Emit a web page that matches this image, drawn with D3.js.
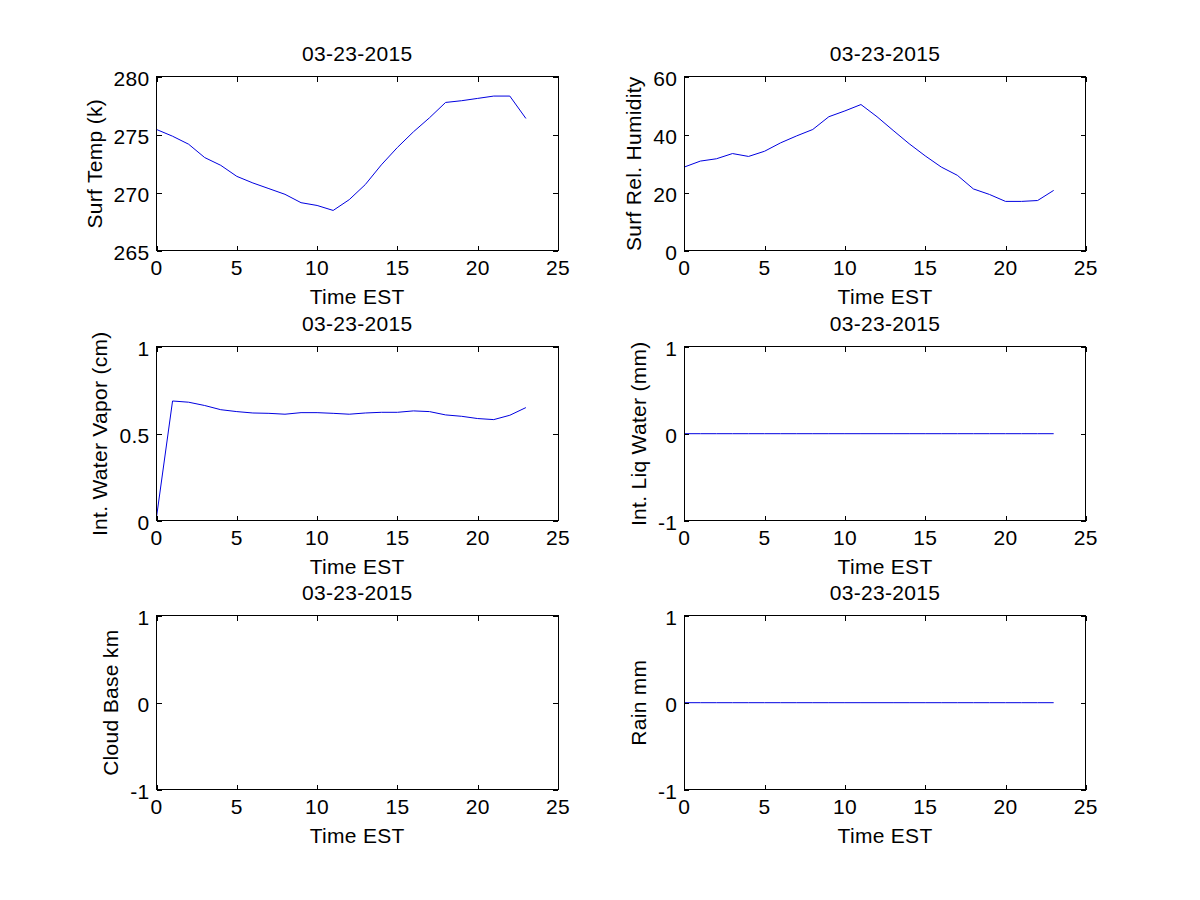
<!DOCTYPE html>
<html>
<head>
<meta charset="utf-8">
<script src="https://cdn.jsdelivr.net/npm/d3@7"></script>
<style>
  body { margin: 0; background: #fff; }
  svg { display: block; }
  text { font-family: "Liberation Sans", Arial, sans-serif; font-size: 21px; letter-spacing: 0.3px; fill: #000; }
</style>
</head>
<body>
<div id="container"></div>
<script>
var hours = [0, 1, 2, 3, 4, 5, 6, 7, 8, 9, 10, 11, 12, 13, 14, 15, 16, 17, 18, 19, 20, 21, 22, 23],
    surfTemp = [275.45, 274.87, 274.18, 273.03, 272.36, 271.41, 270.84, 270.35, 269.86, 269.14, 268.9, 268.47,
                269.4, 270.7, 272.4, 273.9, 275.25, 276.46, 277.78, 277.93, 278.13, 278.33, 278.33, 276.4],
    surfHumidity = [28.85, 30.9, 31.7, 33.5, 32.5, 34.3, 37.2, 39.6, 41.8, 46.2, 48.2, 50.4,
                    46.2, 41.5, 36.9, 32.7, 28.85, 26.0, 21.3, 19.4, 17.0, 17.0, 17.3, 20.8],
    waterVapor = [0.02, 0.688, 0.681, 0.662, 0.638, 0.627, 0.619, 0.617, 0.612, 0.621, 0.621, 0.617,
                  0.612, 0.619, 0.623, 0.623, 0.631, 0.627, 0.608, 0.6, 0.587, 0.581, 0.606, 0.65],
    liqWater = [0, 0, 0, 0, 0, 0, 0, 0, 0, 0, 0, 0, 0, 0, 0, 0, 0, 0, 0, 0, 0, 0, 0, 0],
    cloudBase = [],
    rain = [0, 0, 0, 0, 0, 0, 0, 0, 0, 0, 0, 0, 0, 0, 0, 0, 0, 0, 0, 0, 0, 0, 0, 0],
    xTicks = [0, 5, 10, 15, 20, 25],
    tempTicks = [265, 270, 275, 280],
    humTicks = [0, 20, 40, 60],
    vaporTicks = [0, 0.5, 1],
    unitTicks = [-1, 0, 1],
    dateTitle = '03-23-2015',
    xLabel = 'Time EST';

var width = 1200,
    height = 900,
    colLeft = [156.5, 684.3],
    plotWidth = 401.5,
    rowTop = [76.7, 346.7, 615.7],
    plotHeight = 174,
    tickLen = 5,
    svg;

var panels = [
  { row: 0, col: 0, label: 'Surf Temp (k)', values: surfTemp, ticks: tempTicks },
  { row: 0, col: 1, label: 'Surf Rel. Humidity', values: surfHumidity, ticks: humTicks },
  { row: 1, col: 0, label: 'Int. Water Vapor (cm)', values: waterVapor, ticks: vaporTicks },
  { row: 1, col: 1, label: 'Int. Liq Water (mm)', values: liqWater, ticks: unitTicks },
  { row: 2, col: 0, label: 'Cloud Base km', values: cloudBase, ticks: unitTicks },
  { row: 2, col: 1, label: 'Rain mm', values: rain, ticks: unitTicks }
];

svg = d3.select('#container').append('svg')
  .attr('width', width)
  .attr('height', height);

function drawPanel(p) {
  var g = svg.append('g')
    .attr('transform', 'translate(' + colLeft[p.col] + ',' + rowTop[p.row] + ')');

  var x = d3.scaleLinear().domain([0, 25]).range([0, plotWidth]),
      y = d3.scaleLinear().domain(d3.extent(p.ticks)).range([plotHeight, 0]);

  // data line first, box on top
  var pts = p.values.map(function (v, i) { return { h: hours[i], v: v }; });
  if (pts.length) {
    g.append('path')
      .datum(pts)
      .attr('fill', 'none')
      .attr('stroke', '#0000e0')
      .attr('stroke-width', 1)
      .attr('d', d3.line()
        .defined(function (d) { return d.v != null; })
        .x(function (d) { return x(d.h); })
        .y(function (d) { return y(d.v); }));
  }

  g.append('rect')
    .attr('width', plotWidth)
    .attr('height', plotHeight)
    .attr('fill', 'none')
    .attr('stroke', '#000')
    .attr('stroke-width', 1)
    .attr('shape-rendering', 'crispEdges');

  // inward ticks on all four sides
  var bottomAxis = d3.axisBottom(x).tickValues(xTicks).tickSizeInner(-tickLen).tickSizeOuter(0).tickFormat(''),
      topAxis = d3.axisTop(x).tickValues(xTicks).tickSizeInner(-tickLen).tickSizeOuter(0).tickFormat(''),
      leftAxis = d3.axisLeft(y).tickValues(p.ticks).tickSizeInner(-tickLen).tickSizeOuter(0).tickFormat(''),
      rightAxis = d3.axisRight(y).tickValues(p.ticks).tickSizeInner(-tickLen).tickSizeOuter(0).tickFormat('');

  [[bottomAxis, 0, plotHeight], [topAxis, 0, 0], [leftAxis, 0, 0], [rightAxis, plotWidth, 0]].forEach(function (a) {
    var ag = g.append('g')
      .attr('transform', 'translate(' + a[1] + ',' + a[2] + ')')
      .call(a[0]);
    ag.select('.domain').remove();
    ag.selectAll('line').attr('stroke', '#000').attr('shape-rendering', 'crispEdges');
  });

  // tick labels
  g.selectAll('.xlab')
    .data(xTicks)
    .enter()
    .append('text')
    .attr('x', function (d) { return x(d); })
    .attr('y', plotHeight + 24)
    .attr('text-anchor', 'middle')
    .text(function (d) { return d; });

  var ylabs = g.selectAll('.ylab')
    .data(p.ticks)
    .enter()
    .append('text')
    .attr('x', -7)
    .attr('y', function (d) { return y(d) + 9.5; })
    .attr('text-anchor', 'end')
    .text(function (d) { return d; });

  var maxW = 0;
  ylabs.each(function () { maxW = Math.max(maxW, this.getComputedTextLength()); });

  g.append('text')
    .attr('transform', 'translate(' + (-(7 + maxW + 12)) + ',' + (plotHeight / 2) + ') rotate(-90)')
    .attr('text-anchor', 'middle')
    .text(p.label);

  g.append('text')
    .attr('x', plotWidth / 2)
    .attr('y', -16)
    .attr('text-anchor', 'middle')
    .text(dateTitle);

  g.append('text')
    .attr('x', plotWidth / 2)
    .attr('y', plotHeight + 53)
    .attr('text-anchor', 'middle')
    .text(xLabel);
}

panels.forEach(drawPanel);
</script>
</body>
</html>
